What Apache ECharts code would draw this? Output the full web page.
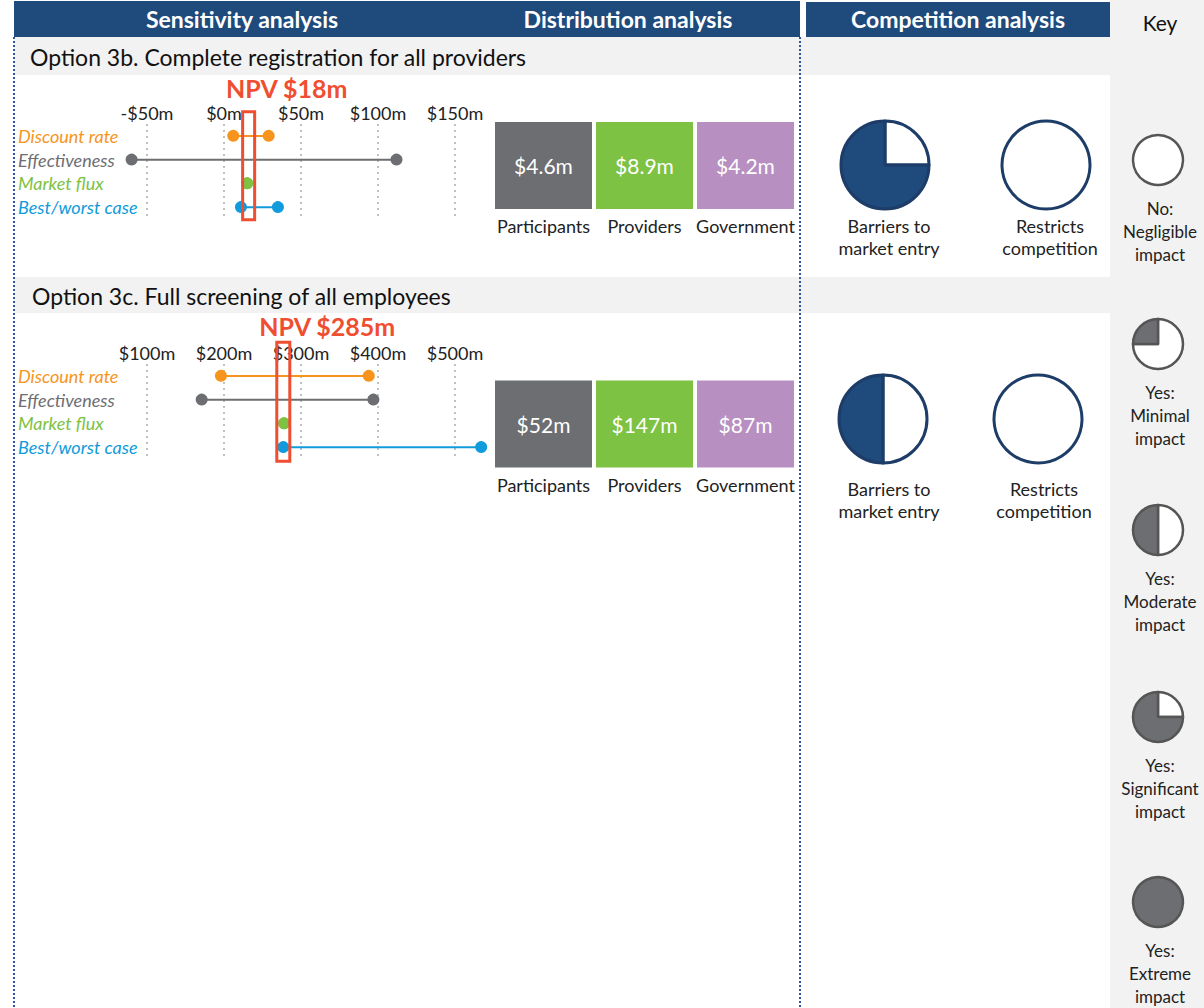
<!DOCTYPE html>
<html>
<head>
<meta charset="utf-8">
<script src="https://cdn.jsdelivr.net/npm/echarts@6/dist/echarts.min.js"></script>
<style>
  html, body { margin: 0; padding: 0; background: #fff; }
  #main { width: 1204px; height: 1008px; }
</style>
</head>
<body>
<div id="main"></div>
<script>
// sensitivity rows (same for both options)
var sensCats = ['Discount rate', 'Effectiveness', 'Market flux', 'Best/worst case'];
// option 3b, $m
var sens1Low = [6, -60, 15, 11];
var sens1High = [29, 112, 15, 35];
var sens1Ticks = [-50, 150, 50];
// option 3c, $m
var sens2Low = [196, 171, 278, 277];
var sens2High = [388, 394, 278, 534];
var sens2Ticks = [100, 500, 100];
// NPV label value and where the red box sits
var npvValues = [18, 285];
var npvBox = [16, 277];

// distribution of benefits
var distCats = ['Participants', 'Providers', 'Government'];
var dist1 = ['4.6', '8.9', '4.2'];
var dist2 = ['52', '147', '87'];

// competition, in quarters filled (0..4)
var compCats = ['Barriers to\nmarket entry', 'Restricts\ncompetition'];
var comp1 = [3, 0];
var comp2 = [2, 0];

// key
var keyLevels = [0, 1, 2, 3, 4];
var keyLabels = ['No:\nNegligible\nimpact', 'Yes:\nMinimal\nimpact', 'Yes:\nModerate\nimpact',
                 'Yes:\nSignificant\nimpact', 'Yes:\nExtreme\nimpact'];

var FONT = 'Lato, "Open Sans", sans-serif';
var sensColors = ['#f7941d', '#6d6e71', '#7dc242', '#0f9bdc'];
var distColors = ['#6d6e71', '#7dc242', '#b88fc1'];
var blue = '#1f4a7c';
var red = '#f04e30';

var chart = echarts.init(document.getElementById('main'), null, { renderer: 'svg' });

var grids = [
  { left: 147, top: 124, width: 308, height: 95 },
  { left: 147, top: 364, width: 308, height: 95 },
  { left: 493, top: 122, width: 303, height: 87 },
  { left: 493, top: 380, width: 303, height: 88 }
];

function moneyFmt(v) {
  return v < 0 ? '-$' + Math.abs(v) + 'm' : '$' + v + 'm';
}

function sensX(grid, ticks) {
  return {
    type: 'value', gridIndex: grid, position: 'top',
    min: ticks[0], max: ticks[1], interval: ticks[2],
    axisLine: { show: false }, axisTick: { show: false },
    axisLabel: { formatter: moneyFmt, margin: 2, color: '#222', fontSize: 18, fontFamily: FONT },
    splitLine: { show: true, lineStyle: { color: '#c0c0c0', width: 2, type: [2, 4] } }
  };
}
function sensY(grid) {
  return {
    type: 'category', gridIndex: grid, data: sensCats, inverse: true,
    axisLine: { show: false }, axisTick: { show: false }, splitLine: { show: false },
    axisLabel: {
      align: 'left', margin: 129, fontSize: 18, fontStyle: 'italic', fontFamily: FONT,
      color: function (v, i) { return sensColors[i]; }
    }
  };
}

var series = [];
// box: [width, height, y shift], label: [x shift, gap above box]
function addSens(k, low, high, box, lbl) {
  sensCats.forEach(function (c, i) {
    series.push({
      type: 'line', xAxisIndex: k, yAxisIndex: k, clip: false, silent: true,
      symbol: 'circle', symbolSize: 12, showAllSymbol: true,
      lineStyle: { color: sensColors[i], width: 2 },
      itemStyle: { color: sensColors[i], opacity: 1 },
      data: [[low[i], c], [high[i], c]],
      z: 3
    });
  });
  series.push({
    type: 'custom', xAxisIndex: k, yAxisIndex: k, clip: false, silent: true, z: 4,
    data: [[npvBox[k], sensCats[1]]],
    renderItem: function (params, api) {
      var p = api.coord([api.value(0), api.value(1)]);
      var top = p[1] + box[2] - box[1] / 2;
      return {
        type: 'group',
        children: [
          { type: 'rect', shape: { x: p[0] - box[0] / 2, y: top, width: box[0], height: box[1] },
            style: { fill: 'none', stroke: red, lineWidth: 3 } },
          { type: 'text', x: p[0] + lbl[0], y: top - lbl[1],
            style: { text: 'NPV $' + npvValues[k] + 'm', fill: red, fontSize: 25, fontWeight: 'bold',
                     fontFamily: FONT, align: 'center', verticalAlign: 'bottom' } }
        ]
      };
    }
  });
}
addSens(0, sens1Low, sens1High, [12, 108, 6], [38, 11]);
addSens(1, sens2Low, sens2High, [13, 119, 2], [44, 4]);

function distX(grid) {
  return {
    type: 'category', gridIndex: grid, data: distCats, position: 'bottom',
    axisLine: { show: false }, axisTick: { show: false },
    axisLabel: { interval: 0, margin: 8, fontSize: 18, color: '#222', fontFamily: FONT }
  };
}
function distY(grid) {
  return { type: 'category', gridIndex: grid, data: ['all'], show: false };
}
function addDist(k, vals) {
  series.push({
    type: 'scatter', xAxisIndex: k, yAxisIndex: k, silent: true,
    symbol: 'rect', symbolSize: [97, 87],
    label: {
      show: true, position: 'inside', color: '#fff', fontSize: 21, fontFamily: FONT,
      formatter: function (p) { return '$' + p.value[2] + 'm'; }
    },
    data: vals.map(function (v, i) {
      return { value: [distCats[i], 'all', v], itemStyle: { color: distColors[i], opacity: 1 } };
    })
  });
}
addDist(2, dist1);
addDist(3, dist2);

function addPie(center, r, level, fill, stroke, bw) {
  var d = [
    { value: 4 - level, itemStyle: { color: '#fff', borderColor: stroke, borderWidth: bw } },
    { value: level, itemStyle: { color: fill, borderColor: stroke, borderWidth: bw } }
  ].filter(function (x) { return x.value > 0; });
  series.push({
    type: 'pie', center: center, radius: r, startAngle: 90, clockwise: true,
    silent: true, label: { show: false }, labelLine: { show: false },
    emphasis: { disabled: true }, data: d
  });
}

var graphics = [
  { type: 'rect', shape: { x: 1110, y: 0, width: 94, height: 1008 }, style: { fill: '#f2f2f2' } },
  { type: 'rect', shape: { x: 14, y: 37, width: 1096, height: 38 }, style: { fill: '#f2f2f2' } },
  { type: 'rect', shape: { x: 14, y: 277, width: 1096, height: 36 }, style: { fill: '#f2f2f2' } },
  { type: 'rect', shape: { x: 14, y: 1, width: 786, height: 36 }, style: { fill: blue } },
  { type: 'rect', shape: { x: 806, y: 2, width: 304, height: 35 }, style: { fill: blue } },
  { type: 'line', shape: { x1: 14, y1: 37, x2: 14, y2: 1008 }, style: { stroke: '#2f5597', lineWidth: 2, lineDash: [2, 2] } },
  { type: 'line', shape: { x1: 800, y1: 37, x2: 800, y2: 1008 }, style: { stroke: '#2f5597', lineWidth: 2, lineDash: [2, 2] } }
];
function txt(s, x, y, opt) {
  graphics.push({
    type: 'text', x: x, y: y, z: 10,
    style: Object.assign({
      text: s, fill: '#222', fontSize: 18, fontFamily: FONT,
      align: 'center', verticalAlign: 'middle'
    }, opt || {})
  });
}
txt('Sensitivity analysis', 242, 19, { fill: '#fff', fontSize: 23, fontWeight: 'bold' });
txt('Distribution analysis', 628, 19, { fill: '#fff', fontSize: 23, fontWeight: 'bold' });
txt('Competition analysis', 958, 19, { fill: '#fff', fontSize: 23, fontWeight: 'bold' });
txt('Key', 1160, 22, { fill: '#111', fontSize: 21 });
txt('Option 3b. Complete registration for all providers', 30, 57, { fill: '#111', fontSize: 23, align: 'left' });
txt('Option 3c. Full screening of all employees', 32, 296, { fill: '#111', fontSize: 23, align: 'left' });

var compCenters1 = [[885, 165], [1046, 165]];
var compCenters2 = [[883, 419], [1038, 419]];
compCats.forEach(function (c, i) {
  addPie(compCenters1[i], 44, comp1[i], blue, '#1d3d68', 3);
  addPie(compCenters2[i], 44, comp2[i], blue, '#1d3d68', 3);
  txt(c, compCenters1[i][0] + 4, compCenters1[i][1] + 50, { verticalAlign: 'top', lineHeight: 22 });
  txt(c, compCenters2[i][0] + 6, compCenters2[i][1] + 59, { verticalAlign: 'top', lineHeight: 22 });
});

var keyY = [160, 344, 530, 717, 902];
keyLevels.forEach(function (lv, i) {
  addPie([1158, keyY[i]], 25, lv, '#6d6e71', '#555', 2.5);
  txt(keyLabels[i], 1160, keyY[i] + 37, { verticalAlign: 'top', lineHeight: 23, fontSize: 17 });
});

chart.setOption({
  animation: false,
  backgroundColor: '#fff',
  grid: grids,
  xAxis: [sensX(0, sens1Ticks), sensX(1, sens2Ticks), distX(2), distX(3)],
  yAxis: [sensY(0), sensY(1), distY(2), distY(3)],
  graphic: graphics,
  series: series
});
</script>
</body>
</html>
